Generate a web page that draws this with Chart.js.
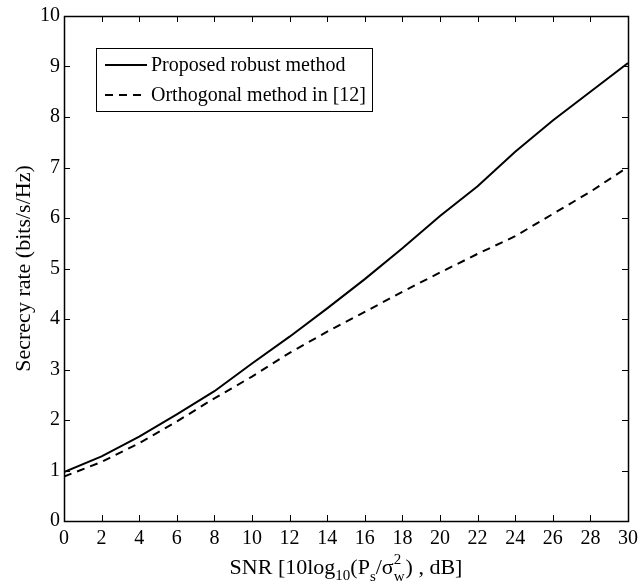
<!DOCTYPE html>
<html>
<head>
<meta charset="utf-8">
<script src="https://cdn.jsdelivr.net/npm/chart.js@4.4.1/dist/chart.umd.min.js"></script>
<style>
html,body{margin:0;padding:0;background:#fff;}
canvas{display:block;}
</style>
</head>
<body>
<canvas id="c" width="644" height="582"></canvas>
<script>
const snr = [0,2,4,6,8,10,12,14,16,18,20,22,24,26,28,30];
const proposed = [0.97,1.28,1.67,2.11,2.57,3.12,3.65,4.21,4.79,5.40,6.04,6.63,7.31,7.93,8.50,9.07];
const orthogonal = [0.88,1.17,1.54,1.97,2.43,2.86,3.33,3.75,4.14,4.54,4.92,5.29,5.64,6.08,6.52,7.01];
const seriesLabels = ['Proposed robust method','Orthogonal method in [12]'];
const xTicks = [0,2,4,6,8,10,12,14,16,18,20,22,24,26,28,30];
const yTicks = [0,1,2,3,4,5,6,7,8,9,10];

const FONT = '"Liberation Serif", "Times New Roman", serif';

const framePlugin = {
  id: 'frame',
  afterDraw(chart) {
    const {ctx, chartArea: a, scales} = chart;
    const xs = scales.x, ys = scales.y;
    ctx.save();
    ctx.strokeStyle = '#000';
    ctx.lineWidth = 1;
    const tl = 6;
    ctx.beginPath();
    xTicks.forEach(v => {
      const px = Math.round(xs.getPixelForValue(v)) + 0.5;
      ctx.moveTo(px, a.bottom); ctx.lineTo(px, a.bottom - tl);
      ctx.moveTo(px, a.top); ctx.lineTo(px, a.top + tl);
    });
    yTicks.forEach(v => {
      const py = Math.round(ys.getPixelForValue(v)) + 0.5;
      ctx.moveTo(a.left, py); ctx.lineTo(a.left + tl, py);
      ctx.moveTo(a.right, py); ctx.lineTo(a.right - tl, py);
    });
    ctx.stroke();
    ctx.lineWidth = 1.5;
    ctx.strokeRect(Math.round(a.left)+0.5, Math.round(a.top)+0.5, Math.round(a.right-a.left), Math.round(a.bottom-a.top));

    // legend
    const lx = 96, ly = 48, lw = 276, lh = 63;
    ctx.fillStyle = '#fff';
    ctx.fillRect(lx, ly, lw, lh);
    ctx.lineWidth = 1;
    ctx.strokeRect(lx+0.5, ly+0.5, lw, lh);
    ctx.font = '20px ' + FONT;
    ctx.fillStyle = '#000';
    ctx.textBaseline = 'middle';
    ctx.textAlign = 'left';
    chart.data.datasets.forEach((ds, i) => {
      const yy = ly + 17 + i * 30;
      ctx.beginPath();
      ctx.lineWidth = 2;
      ctx.setLineDash(ds.borderDash || []);
      ctx.moveTo(105, yy); ctx.lineTo(147, yy);
      ctx.stroke();
      ctx.setLineDash([]);
      ctx.fillText(ds.label, 151, yy + 1);
    });

    // y title
    ctx.save();
    ctx.translate(24, (a.top + a.bottom) / 2);
    ctx.rotate(-Math.PI / 2);
    ctx.textAlign = 'center';
    ctx.textBaseline = 'middle';
    ctx.font = '22px ' + FONT;
    ctx.fillText('Secrecy rate (bits/s/Hz)', 0, 0);
    ctx.restore();

    // x title with sub/superscripts
    const big = '22px ' + FONT, small = '15px ' + FONT;
    const base = 574;
    const parts = [
      {t:'SNR [10log', f:big, dy:0},
      {t:'10', f:small, dy:6},
      {t:'(P', f:big, dy:0},
      {t:'s', f:small, dy:7},
      {t:'/\u03C3', f:big, dy:0},
      {stack:true, sup:'2', sub:'w'},
      {t:') , dB]', f:big, dy:0}
    ];
    let total = 0;
    parts.forEach(p => {
      if (p.stack) { ctx.font = small; p.w = Math.max(ctx.measureText(p.sup).width, ctx.measureText(p.sub).width) + 1; }
      else { ctx.font = p.f; p.w = ctx.measureText(p.t).width; }
      total += p.w;
    });
    let cx = (a.left + a.right) / 2 - total / 2;
    ctx.textBaseline = 'alphabetic';
    ctx.textAlign = 'left';
    parts.forEach(p => {
      if (p.stack) {
        ctx.font = small;
        ctx.fillText(p.sup, cx, base - 10);
        ctx.fillText(p.sub, cx, base + 7);
      } else {
        ctx.font = p.f;
        ctx.fillText(p.t, cx, base + p.dy);
      }
      cx += p.w;
    });
    ctx.restore();
  }
};

const toPts = (ys) => snr.map((x, i) => ({x, y: ys[i]}));

new Chart(document.getElementById('c'), {
  type: 'line',
  data: {
    datasets: [
      {label: seriesLabels[0], data: toPts(proposed), borderColor:'#000', borderWidth:2, pointRadius:0, tension:0, fill:false},
      {label: seriesLabels[1], data: toPts(orthogonal), borderColor:'#000', borderWidth:2, borderDash:[8,6], pointRadius:0, tension:0, fill:false}
    ]
  },
  options: {
    responsive: false,
    animation: false,
    layout: {padding: {top: 16, right: 14, left: 0, bottom: 0}},
    plugins: {legend: {display:false}, tooltip: {enabled:false}},
    scales: {
      x: {
        type: 'linear', min: 0, max: 30,
        afterBuildTicks: (s) => { s.ticks = xTicks.map(v => ({value: v})); },
        afterFit: (s) => { s.height = 61; },
        grid: {display: false, drawTicks: false},
        border: {display: false},
        ticks: {color:'#000', font:{family: FONT, size: 20}, padding: 6, maxRotation: 0, autoSkip: false}
      },
      y: {
        type: 'linear', min: 0, max: 10,
        afterBuildTicks: (s) => { s.ticks = yTicks.map(v => ({value: v})); },
        afterFit: (s) => { s.width = 64; },
        grid: {display: false, drawTicks: false},
        border: {display: false},
        ticks: {color:'#000', font:{family: FONT, size: 20}, padding: 4}
      }
    }
  },
  plugins: [framePlugin]
});
</script>
</body>
</html>
